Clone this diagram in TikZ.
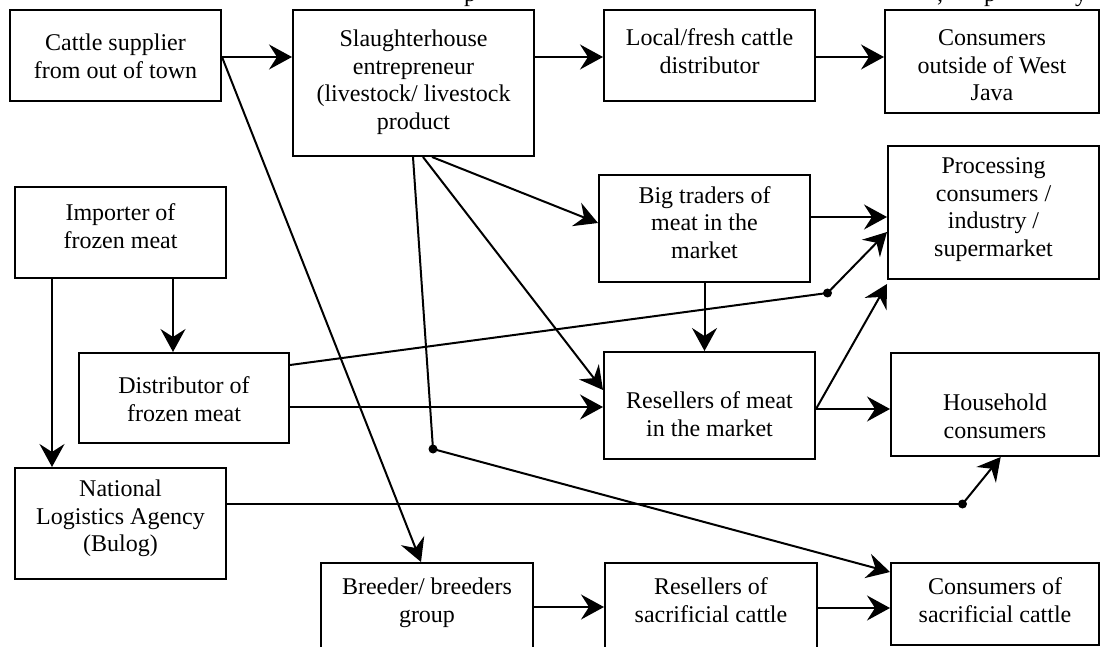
\documentclass[tikz,border=0pt]{standalone}
\usepackage{fontspec}
\setmainfont{Liberation Serif}
\usetikzlibrary{calc,arrows.meta}
\begin{document}
\begin{tikzpicture}[x=1pt,y=-1pt,
  box/.style={draw, line width=2pt, inner sep=0pt, rectangle},
  txt/.style={anchor=north, align=center, inner sep=0pt, font=\fontsize{24}{27.6}\selectfont, execute at begin node=\strut},
  frag/.style={anchor=base, inner sep=0pt, font=\fontsize{24}{27.6}\selectfont},
  arr/.style={line width=2pt, -{Stealth[length=23pt,width=25pt,inset=8pt]}},
  ln/.style={line width=2pt}]
\useasboundingbox (0,0) rectangle (1101,647);
\clip (0,0) rectangle (1101,647);
\fill[white] (0,0) rectangle (1101,647);
% caption fragments cut by the top edge
\node[frag] (f1) at (470,2) {p};
\node[frag] (f2) at (940,2) {,};
\node[frag] (f3) at (990,2) {p};
\node[frag] (f4) at (1081,2) {y};
% boxes
\node[box, minimum width=211pt, minimum height=91pt] (a) at (115.5,55.5) {};
\node[txt] (at) at ($(a.north)+(0,24.7)$) {Cattle supplier\\from out of town};
\node[box, minimum width=241pt, minimum height=146pt] (b) at (413.5,83) {};
\node[txt] (bt) at ($(b.north)+(0,20.7)$) {Slaughterhouse\\entrepreneur\\(livestock/ livestock\\product};
\node[box, minimum width=211pt, minimum height=91pt] (c) at (709.5,55.5) {};
\node[txt] (ct) at ($(c.north)+(0,19.7)$) {Local/fresh cattle\\distributor};
\node[box, minimum width=214pt, minimum height=103pt] (d) at (992,61.5) {};
\node[txt] (dt) at ($(d.north)+(0,20.7)$) {Consumers\\outside of West\\Java};
\node[box, minimum width=211pt, minimum height=91pt] (e) at (120.5,232.5) {};
\node[txt] (et) at ($(e.north)+(0,17.7)$) {Importer of\\frozen meat};
\node[box, minimum width=210pt, minimum height=90pt] (f) at (184,398) {};
\node[txt] (ft) at ($(f.north)+(0,24.7)$) {Distributor of\\frozen meat};
\node[box, minimum width=211pt, minimum height=111pt] (g) at (120.5,523.5) {};
\node[txt] (gt) at ($(g.north)+(0,12.7)$) {National\\Logistics Agency\\(Bulog)};
\node[box, minimum width=211pt, minimum height=107pt] (h) at (704.5,228.5) {};
\node[txt] (ht) at ($(h.north)+(0,12.2)$) {Big traders of\\meat in the\\market};
\node[box, minimum width=211pt, minimum height=133pt] (i) at (993.5,212.5) {};
\node[txt] (it) at ($(i.north)+(0,12.7)$) {Processing\\consumers /\\industry /\\supermarket};
\node[box, minimum width=211pt, minimum height=107pt] (j) at (709.5,405.5) {};
\node[txt] (jt) at ($(j.north)+(0,40.7)$) {Resellers of meat\\in the market};
\node[box, minimum width=208pt, minimum height=103pt] (k) at (995,404.5) {};
\node[txt] (kt) at ($(k.north)+(0,41.7)$) {Household\\consumers};
\node[box, minimum width=212pt, minimum height=117pt] (l) at (427,621.5) {};
\node[txt] (lt) at ($(l.north)+(0,15.7)$) {Breeder/ breeders\\group};
\node[box, minimum width=212pt, minimum height=117pt] (m) at (711,621.5) {};
\node[txt] (mt) at ($(m.north)+(0,15.7)$) {Resellers of\\sacrificial cattle};
\node[box, minimum width=208pt, minimum height=82pt] (n) at (995,604) {};
\node[txt] (nt) at ($(n.north)+(0,15.7)$) {Consumers of\\sacrificial cattle};
% junction points
\coordinate (d1) at (827.5,293);
\coordinate (d2) at (962.5,504);
\coordinate (d3) at (433,449);
% connector end points on the boxes
\coordinate (a1) at ($(a.east)+(0,1.5)$);
\coordinate (c1) at ($(c.west)+(0,1.5)$);
\coordinate (c2) at ($(c.east)+(0,1.5)$);
\coordinate (l1) at ($(l.north)+(-6,0)$);
\coordinate (e1) at ($(e.south)+(52.5,0)$);
\coordinate (e2) at ($(e.south)+(-68.5,0)$);
\coordinate (f1) at ($(f.east)+(0,9)$);
\coordinate (f2) at ($(f.east)+(0,-33)$);
\coordinate (i1) at ($(i.west)+(0,19.5)$);
\coordinate (h1) at ($(h.east)+(0,-11.5)$);
\coordinate (b1) at ($(b.south)+(18.5,0)$);
\coordinate (b2) at ($(b.south)+(9.5,0)$);
\coordinate (b3) at ($(b.south)+(-0.5,0)$);
\coordinate (h2) at ($(h.west)+(0,-5.5)$);
\coordinate (j1) at ($(j.west)+(0,-15.5)$);
\coordinate (n1) at ($(n.north west)+(0,10)$);
\coordinate (j2) at ($(j.east)+(0,3.5)$);
\coordinate (i2) at ($(i.south west)+(0,4)$);
\coordinate (g1) at ($(g.east)+(0,-19.5)$);
\coordinate (k1) at ($(k.south)+(5.7,0)$);
\coordinate (l2) at ($(l.north east)+(0,45)$);
\coordinate (m2) at ($(m.north east)+(0,46)$);
% connectors
\draw[arr] (a1) -- (a1 -| b.west);
\draw[arr] (c1 -| b.east) -- (c1);
\draw[arr] (c2) -- (c2 -| d.west);
\draw[arr] (a1) -- (l1);
\draw[arr] (e1) -- (e1 |- f.north);
\draw[arr] (e2) -- (e2 |- g.north);
\draw[arr] (f1) -- (f1 -| j.west);
\draw[ln] (f2) -- (d1);
\draw[arr] (d1) -- (i1);
\draw[arr] (h1) -- (h1 -| i.west);
\draw[arr] (h.south) -- (h.south |- j.north);
\draw[arr] (b1) -- (h2);
\draw[arr] (b2) -- (j1);
\draw[ln] (b3) -- (d3);
\draw[arr] (d3) -- (n1);
\draw[arr] (j2) -- (i2);
\draw[arr] (j2) -- (j2 -| k.west);
\draw[ln] (g1) -- (d2);
\draw[arr] (d2) -- (k1);
\draw[arr] (l2) -- (l2 -| m.west);
\draw[arr] (m2) -- (m2 -| n.west);
\fill (d1) circle (4.5pt);
\fill (d2) circle (4.5pt);
\fill (d3) circle (4.5pt);
\end{tikzpicture}
\end{document}
